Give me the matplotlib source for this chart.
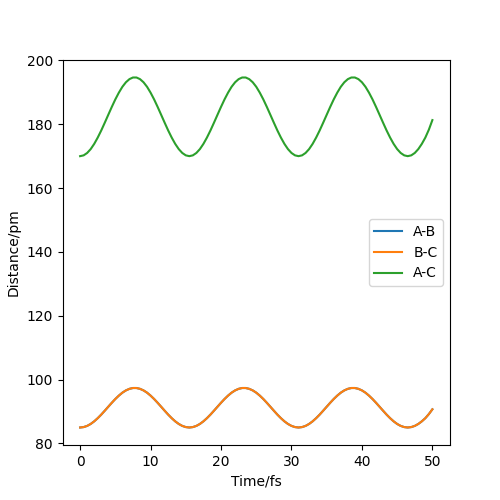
import matplotlib
matplotlib.use("Agg")
import matplotlib.pyplot as plt

time_fs = [i * 0.5 for i in range(101)]

ac_cycle = [170.0, 170.25, 171.0, 172.21, 173.84, 175.82, 178.05, 180.48,
            182.97, 185.44, 187.79, 189.9, 191.73, 193.15, 194.13, 194.64,
            194.64, 194.13, 193.15, 191.73, 189.9, 187.79, 185.44, 182.97,
            180.48, 178.05, 175.82, 173.84, 172.21, 171.0, 170.25]
ac_end = [170.0, 170.25, 171.0, 172.21, 173.84, 175.82, 178.3, 181.3]
dist_ac = ac_cycle + ac_cycle + ac_cycle + ac_end

ab_cycle = [85.0, 85.13, 85.5, 86.11, 86.93, 87.92, 89.04, 90.26,
            91.51, 92.75, 93.93, 94.99, 95.91, 96.62, 97.11, 97.37,
            97.37, 97.11, 96.62, 95.91, 94.99, 93.93, 92.75, 91.51,
            90.26, 89.04, 87.92, 86.93, 86.11, 85.5, 85.13]
ab_end = [85.0, 85.13, 85.5, 86.11, 86.93, 87.92, 89.2, 90.7]
dist_ab = ab_cycle + ab_cycle + ab_cycle + ab_end
dist_bc = list(dist_ab)

fig, ax = plt.subplots(figsize=(5, 5), dpi=100)
ax.plot(time_fs, dist_ab, label="A-B")
ax.plot(time_fs, dist_bc, label="B-C")
ax.plot(time_fs, dist_ac, label="A-C")
ax.set_xlabel("Time/fs")
ax.set_ylabel("Distance/pm")
ax.legend(loc="center right")
fig.savefig("out.png")
